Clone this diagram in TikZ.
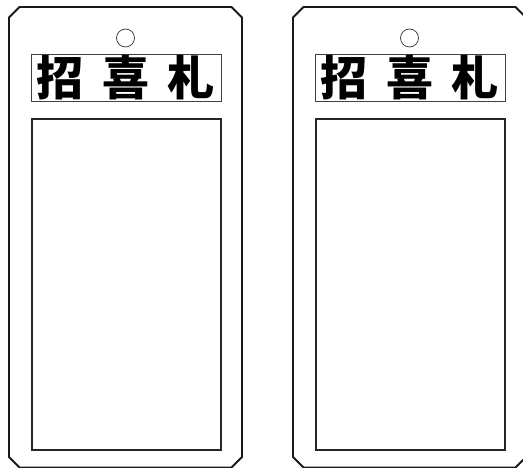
\documentclass[tikz,border=0pt]{standalone}
\usepackage{fontspec}
\usepackage{tikz}
\newfontfamily\cjk{Noto Sans CJK SC}[BoldFont=* Black]

\tikzset{
  tagedge/.style={line width=1.9pt, draw=black!90},
  titlebox/.style={line width=0.8pt, draw=black!75},
  window/.style={line width=1.9pt, draw=black!85},
  hole/.style={line width=0.7pt, draw=black!80},
  glyph/.style={font=\cjk\bfseries\fontsize{47}{47}\selectfont, inner sep=0pt}
}

\begin{document}
\begin{tikzpicture}[x=1pt,y=-1pt]

\useasboundingbox (0,0) rectangle (523,468);

\pgfmathsetmacro{\cut}{10.5}

% Draw the two tags side by side
\foreach \dx/\nm in {0/L, 284/R} {
  \begin{scope}[xshift=\dx pt]
    % outline with cut corners
    \draw[tagedge] (9,7+\cut) -- (9+\cut,7) -- (242-\cut,7) -- (242,7+\cut)
      -- (242,467.5-\cut) -- (242-\cut,467.5) -- (9+\cut,467.5) -- (9,467.5-\cut) -- cycle;
    % hole
    \draw[hole] (125.5,38) circle (9);
    % title
    \node[titlebox, minimum width=190pt, minimum height=47pt, inner sep=0pt] (title\nm) at (126,77.5) {};
    \node[glyph] (zhao\nm) at (60,77.5) {招};
    \node[glyph] (xi\nm) at (126,77.5) {喜};
    \node[glyph] (zha\nm) at (191,77.5) {札};
    % empty window
    \node[window, minimum width=189pt, minimum height=330.5pt, inner sep=0pt] (window\nm) at (126.2,284.5) {};
  \end{scope}
}

\end{tikzpicture}
\end{document}
